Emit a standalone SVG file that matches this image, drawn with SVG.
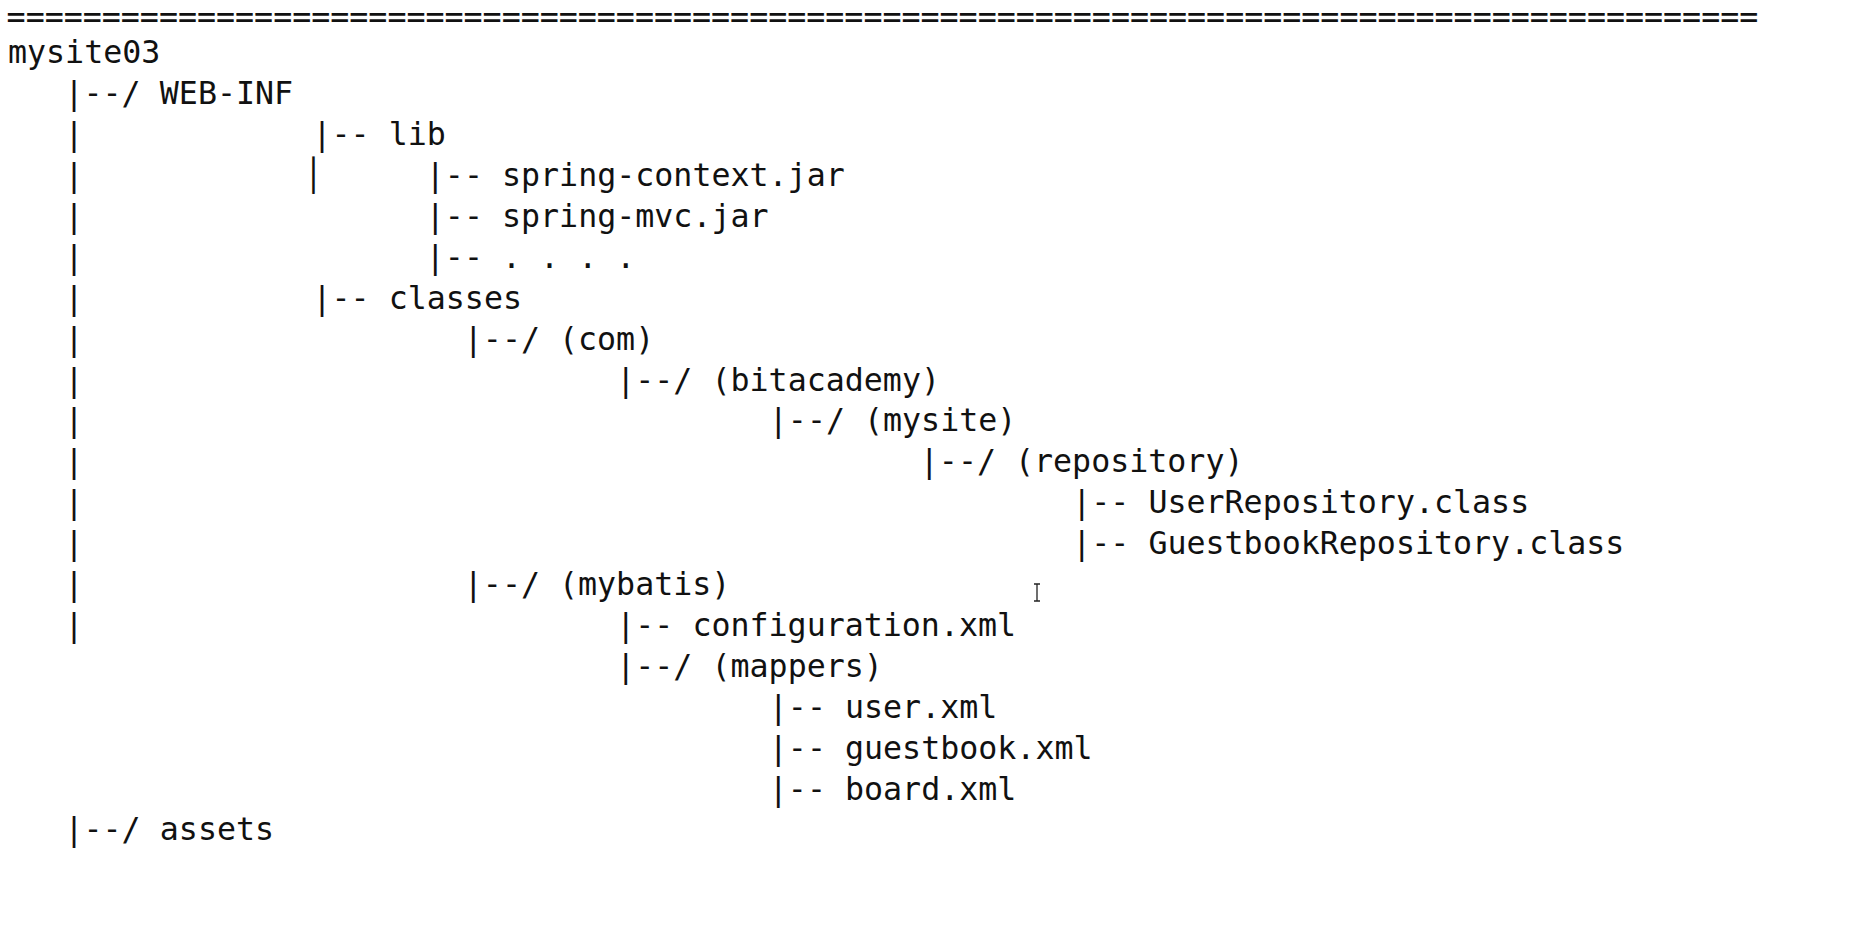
<svg xmlns="http://www.w3.org/2000/svg" width="1875" height="932" viewBox="0 0 1875 932">
<style>
text{font-family:"DejaVu Sans Mono","Liberation Mono",monospace;font-size:31.64px;fill:#111;white-space:pre}
.bx{font-size:31.64px}
</style>
<rect width="1875" height="932" fill="#fff"/>
<g id="rule"><text x="6.6" y="28">============================================================================================</text></g>
<g id="connectors">
<text x="64.5" y="104.2">|--/</text>
<text x="64.5" y="145.1">|</text><text x="312.5" y="145.1">|--</text>
<text x="64.5" y="186.0">|</text><text class="bx" x="303.8" y="186.0">│</text><text x="425.8" y="186.0">|--</text>
<text x="64.5" y="226.9">|</text><text x="425.8" y="226.9">|--</text>
<text x="64.5" y="267.8">|</text><text x="425.8" y="267.8">|--</text>
<text x="64.5" y="308.7">|</text><text x="312.5" y="308.7">|--</text>
<text x="64.5" y="349.6">|</text><text x="463.8" y="349.6">|--/</text>
<text x="64.5" y="390.5">|</text><text x="616.2" y="390.5">|--/</text>
<text x="64.5" y="431.4">|</text><text x="768.8" y="431.4">|--/</text>
<text x="64.5" y="472.3">|</text><text x="919.8" y="472.3">|--/</text>
<text x="64.5" y="513.2">|</text><text x="1072.2" y="513.2">|--</text>
<text x="64.5" y="554.1">|</text><text x="1072.2" y="554.1">|--</text>
<text x="64.5" y="595.0">|</text><text x="463.8" y="595.0">|--/</text>
<text x="64.5" y="635.9">|</text><text x="616.2" y="635.9">|--</text>
<text x="616.2" y="676.8">|--/</text>
<text x="768.8" y="717.7">|--</text>
<text x="768.8" y="758.6">|--</text>
<text x="768.8" y="799.5">|--</text>
<text x="64.5" y="840.4">|--/</text>
</g>
<g id="mysite03"><text x="8" y="63.3">mysite03</text></g>
<g id="web-inf"><text x="159.8" y="104.2">WEB-INF</text></g>
<g id="lib"><text x="388.7" y="145.1">lib</text></g>
<g id="spring-context"><text x="502" y="186.0">spring-context.jar</text></g>
<g id="spring-mvc"><text x="502" y="226.9">spring-mvc.jar</text></g>
<g id="more-jars"><text x="502" y="267.8">. . . .</text></g>
<g id="classes"><text x="388.7" y="308.7">classes</text></g>
<g id="com"><text x="559" y="349.6">(com)</text></g>
<g id="bitacademy"><text x="711.5" y="390.5">(bitacademy)</text></g>
<g id="mysite"><text x="864" y="431.4">(mysite)</text></g>
<g id="repository"><text x="1015" y="472.3">(repository)</text></g>
<g id="user-repository"><text x="1148.4" y="513.2">UserRepository.class</text></g>
<g id="guestbook-repository"><text x="1148.4" y="554.1">GuestbookRepository.class</text></g>
<g id="mybatis"><text x="559" y="595.0">(mybatis)</text></g>
<g id="configuration"><text x="692.4" y="635.9">configuration.xml</text></g>
<g id="mappers"><text x="711.5" y="676.8">(mappers)</text></g>
<g id="user-xml"><text x="845" y="717.7">user.xml</text></g>
<g id="guestbook-xml"><text x="845" y="758.6">guestbook.xml</text></g>
<g id="board-xml"><text x="845" y="799.5">board.xml</text></g>
<g id="assets"><text x="159.8" y="840.4">assets</text></g>
<g id="cursor"><path d="M1034,584h6M1037,584v17M1034,601h6" stroke="#222" stroke-width="1.3" fill="none"/></g>
</svg>
